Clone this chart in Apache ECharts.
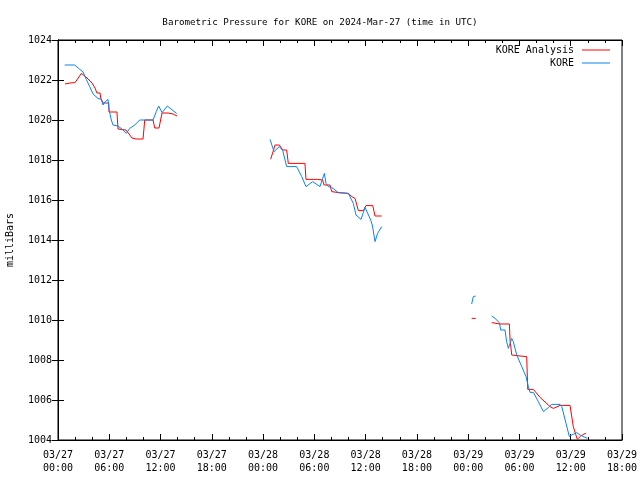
<!DOCTYPE html>
<html>
<head>
<meta charset="utf-8">
<script src="https://cdn.jsdelivr.net/npm/echarts@6/dist/echarts.min.js"></script>
<style>html,body{margin:0;padding:0;background:#fff}#c{width:640px;height:480px}</style>
</head>
<body>
<div id="c"></div>
<script>
// Time in hours since 2024-03-27 00:00 UTC; null breaks the line at data gaps
const analysisHours = [0.82,1.4,2.0,2.73,3.28,3.74,3.98,4.33,4.56,4.92,5.0,5.27,5.93,5.97,6.9,7.02,7.96,8.66,9.13,9.95,10.15,11.12,11.32,11.82,12.17,12.87,13.46,13.93,
  14.5,
  24.89,25.4,25.9,26.3,26.76,26.95,28.9,29.02,30.35,30.97,31.13,31.83,32.03,32.8,33.97,34.37,34.76,35.15,35.73,36.04,36.83,37.1,37.88,
  40,
  48.41,48.88,
  49.5,
  50.75,51.73,52.82,52.9,53.1,54.07,54.85,54.97,55.63,56.41,57.58,57.97,58.75,59.92,60.3,60.77,61.17,61.56,61.8];
const analysisValues = [1021.8,1021.85,1021.87,1022.33,1022.15,1021.95,1021.85,1021.6,1021.35,1021.35,1021.1,1020.85,1020.85,1020.4,1020.4,1019.55,1019.5,1019.1,1019.05,1019.05,1020.0,1020.0,1019.6,1019.6,1020.35,1020.35,1020.3,1020.2,
  null,
  1018.04,1018.75,1018.75,1018.5,1018.5,1017.83,1017.83,1017.03,1017.03,1017.0,1016.75,1016.75,1016.42,1016.37,1016.33,1016.17,1016.08,1015.47,1015.47,1015.72,1015.72,1015.2,1015.2,
  null,
  1010.08,1010.08,
  null,
  1009.87,1009.8,1009.8,1009.0,1008.25,1008.2,1008.17,1006.53,1006.53,1006.13,1005.67,1005.58,1005.73,1005.73,1004.67,1004.03,1004.2,1004.3,1004.33];

const obsHours = [0.78,1.95,2.42,2.93,3.31,3.71,4.10,4.68,5.07,5.27,5.47,5.85,5.97,6.24,6.44,7.02,7.61,8.0,8.39,8.98,9.56,11.12,11.5,11.78,12.17,12.79,13.46,13.89,
  14.5,
  24.81,25.28,25.51,25.9,26.3,26.76,27.93,28.52,29.02,29.8,30.66,30.97,31.17,31.36,31.63,32.03,32.8,33.97,34.56,34.87,35.46,35.93,36.59,36.78,37.1,37.4,37.88,
  40,
  48.41,48.6,48.88,
  49.5,
  50.75,51.14,51.65,51.81,52.31,52.5,52.7,52.9,53.1,53.28,53.68,54.27,54.77,55.04,55.24,55.63,56.21,56.8,57.38,57.77,58.75,58.95,59.45,59.84,60.11,60.7,61.09,61.94];
const obsValues = [1022.75,1022.75,1022.58,1022.4,1022.03,1021.67,1021.3,1021.08,1021.03,1020.75,1020.9,1021.03,1020.53,1020.0,1019.75,1019.7,1019.5,1019.33,1019.58,1019.75,1020.0,1020.0,1020.42,1020.7,1020.37,1020.7,1020.47,1020.33,
  null,
  1019.03,1018.42,1018.33,1018.67,1018.47,1017.67,1017.67,1017.17,1016.67,1016.92,1016.67,1017.08,1017.33,1016.83,1016.67,1016.63,1016.37,1016.33,1015.83,1015.25,1015.03,1015.63,1015.0,1014.75,1013.92,1014.33,1014.67,
  null,
  1010.8,1011.17,1011.2,
  null,
  1010.2,1010.08,1009.87,1009.5,1009.5,1008.92,1008.58,1008.5,1009.08,1008.92,1008.25,1007.67,1007.17,1006.67,1006.38,1006.38,1005.92,1005.42,1005.62,1005.78,1005.78,1005.67,1004.83,1004.17,1004.25,1004.37,1004.25,1004.08];

const tickDates = ['03/27','03/27','03/27','03/27','03/28','03/28','03/28','03/28','03/29','03/29','03/29','03/29'];
const tickTimes = ['00:00','06:00','12:00','18:00','00:00','06:00','12:00','18:00','00:00','06:00','12:00','18:00'];

const FONT = 'DejaVu Sans Mono';
function pairs(xs, ys){ return xs.map((x,i)=>[x, ys[i]]); }

const chart = echarts.init(document.getElementById('c'), null, {renderer:'canvas'});
const xCommon = {
  type:'value', min:0, max:66, interval:6,
  axisLine:{show:true, lineStyle:{color:'#000', width:1}},
  axisTick:{show:true, inside:true, length:6, lineStyle:{color:'#000'}},
  minorTick:{show:true, splitNumber:3, length:3, lineStyle:{color:'#000'}},
  splitLine:{show:false}
};
const yCommon = {
  type:'value', min:1004, max:1024, interval:2,
  axisLine:{show:true, lineStyle:{color:'#000', width:1}},
  axisTick:{show:true, inside:true, length:6, lineStyle:{color:'#000'}},
  splitLine:{show:false}
};
chart.setOption({
  animation:false,
  backgroundColor:'#fff',
  title:{text:'Barometric Pressure for KORE on 2024-Mar-27 (time in UTC)', left:'center', top:13,
    textStyle:{fontFamily:FONT, fontSize:9.2, fontWeight:'normal', color:'#000'}},
  legend:{
    data:['KORE Analysis','KORE'], orient:'vertical', right:25, top:40, align:'right',
    itemWidth:28, itemHeight:1, itemGap:3, icon:'rect',
    textStyle:{fontFamily:FONT, fontSize:10, color:'#000', padding:[0,3,0,0]}
  },
  grid:{left:58, right:18, top:40, bottom:40, show:true, borderColor:'#000', borderWidth:1, outerBoundsMode:'none', containLabel:false},
  xAxis:[
    Object.assign({}, xCommon, {position:'bottom',
      axisLabel:{show:true, fontFamily:FONT, fontSize:10, color:'#000', lineHeight:13, margin:9,
        formatter:function(v){ const i=Math.round(v/6); return tickDates[i]+'\n'+tickTimes[i]; }}}),
    Object.assign({}, xCommon, {position:'top', axisLabel:{show:false}})
  ],
  yAxis:[
    Object.assign({}, yCommon, {position:'left', name:'milliBars', nameLocation:'middle', nameGap:43, nameRotate:90,
      nameTextStyle:{fontFamily:FONT, fontSize:10, color:'#000'},
      axisLabel:{show:true, fontFamily:FONT, fontSize:10, color:'#000', margin:6, formatter:function(v){return String(v);}}}),
    Object.assign({}, yCommon, {position:'right', axisLabel:{show:false}})
  ],
  series:[
    {name:'KORE Analysis', type:'line', data:pairs(analysisHours, analysisValues), showSymbol:false, symbol:'none',
      connectNulls:false, color:'#ff0000', lineStyle:{width:1, color:'#ff0000'}, clip:true},
    {name:'KORE', type:'line', data:pairs(obsHours, obsValues), showSymbol:false, symbol:'none',
      connectNulls:false, color:'#0a84f0', lineStyle:{width:1, color:'#0a84f0'}, clip:true}
  ]
});
</script>
</body>
</html>
